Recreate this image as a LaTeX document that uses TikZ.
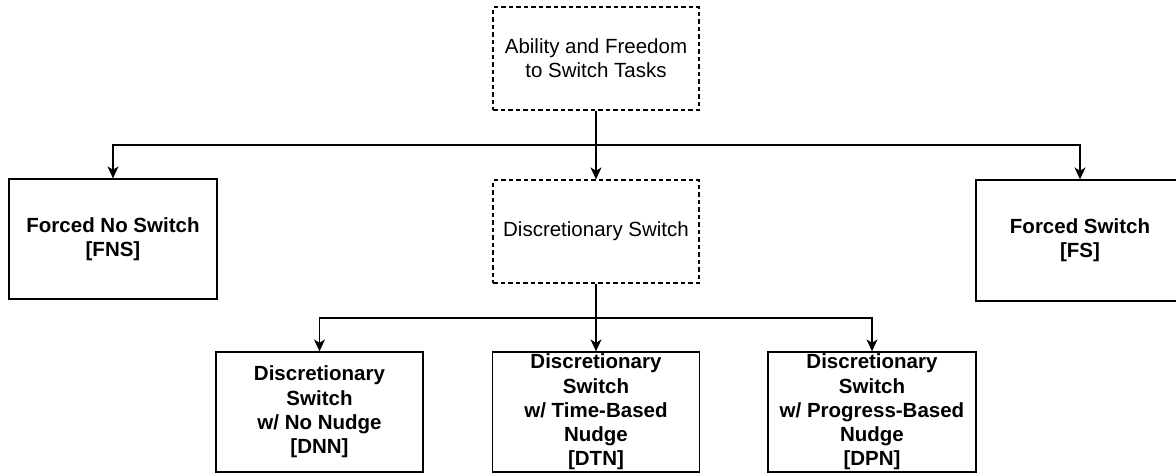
\documentclass[tikz,border=0pt]{standalone}
\usepackage{fontspec}
\setmainfont{Liberation Sans}
\usetikzlibrary{arrows.meta}
\begin{document}
\begin{tikzpicture}[x=1pt,y=-1pt,
  box/.style={draw, line width=1.3pt, inner sep=0pt, align=center,
    font=\fontsize{20.5}{24.3}\selectfont},
  dbox/.style={box, dash pattern=on 4.5pt off 3pt},
  bbox/.style={box, font=\fontsize{20.5}{24.3}\selectfont\bfseries},
  arr/.style={line width=1.3pt, -{Stealth[length=12pt,width=11pt,inset=3.5pt]}}]
\useasboundingbox (0,0) rectangle (1176,475);
\node[dbox, minimum width=206pt, minimum height=103pt] (top) at (596,58.5) {Ability and Freedom\\to Switch Tasks};
\node[dbox, minimum width=206pt, minimum height=103pt] (mid) at (596,231.5) {Discretionary Switch};
\node[bbox, minimum width=208pt, minimum height=120pt] (fns) at (113,239) {Forced No Switch\\{[FNS]}};
\node[bbox, minimum width=208pt, minimum height=121pt] (fs) at (1080,240.5) {Forced Switch\\{[FS]}};
\node[bbox, minimum width=207pt, minimum height=120pt] (dnn) at (319.5,412) {Discretionary\\Switch\\w/ No Nudge\\{[DNN]}};
\node[bbox, minimum width=207pt, minimum height=120pt] (dtn) at (596,412) {Discretionary\\Switch\\w/ Time-Based\\Nudge\\{[DTN]}};
\node[bbox, minimum width=208pt, minimum height=120pt] (dpn) at (872,412) {Discretionary\\Switch\\w/ Progress-Based\\Nudge\\{[DPN]}};
\coordinate (b1) at (596,145);
\coordinate (b2) at (596,318);
\draw[arr] (top.south) -- (mid.north);
\draw[arr] (b1) -| (fns.north);
\draw[arr] (b1) -| (fs.north);
\draw[arr] (mid.south) -- (dtn.north);
\draw[arr] (b2) -| (dnn.north);
\draw[arr] (b2) -| (dpn.north);
\end{tikzpicture}
\end{document}
